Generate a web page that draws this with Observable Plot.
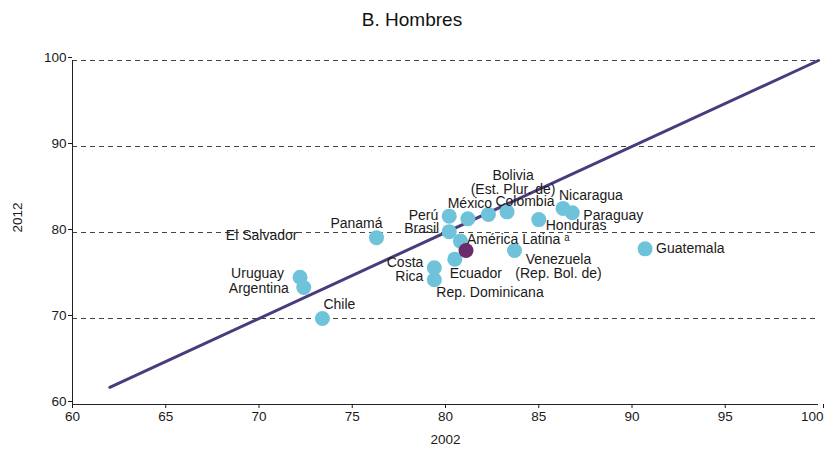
<!DOCTYPE html>
<html>
<head>
<meta charset="utf-8">
<script src="https://cdn.jsdelivr.net/npm/d3@7"></script>
<script src="https://cdn.jsdelivr.net/npm/@observablehq/plot@0.6"></script>
<style>
  html, body { margin: 0; padding: 0; background: #fff; }
  body { width: 824px; height: 451px; overflow: hidden; font-family: "Liberation Sans", Arial, sans-serif; }
  #title { height: 42px; line-height: 40px; text-align: center; font-size: 19px; color: #111; }
  #chart svg { display: block; }
</style>
</head>
<body>
<div id="title">B. Hombres</div>
<div id="chart"></div>
<script>
// ---- data ----
const countries = ["Argentina", "Bolivia (Est. Plur. de)", "Brasil", "Chile", "Colombia", "Costa Rica",
  "Ecuador", "El Salvador", "Guatemala", "Honduras", "México", "Nicaragua", "Panamá", "Paraguay",
  "Perú", "Rep. Dominicana", "Uruguay", "Venezuela (Rep. Bol. de)", "América Latina"];
const value2002 = [72.4, 83.3, 80.2, 73.4, 82.3, 79.4, 80.5, 80.8, 90.7, 85.0, 81.2, 86.3, 76.3, 86.8, 80.2, 79.4, 72.2, 83.7, 81.1];
const value2012 = [73.6, 82.4, 80.1, 70.0, 82.1, 75.9, 76.9, 79.0, 78.1, 81.5, 81.6, 82.8, 79.4, 82.3, 81.9, 74.5, 74.8, 77.9, 77.9];
const labels = ["Argentina", "Bolivia\n(Est. Plur. de)", "Brasil", "Chile", "Colombia", "Costa\nRica",
  "Ecuador", "El Salvador", "Guatemala", "Honduras", "México", "Nicaragua", "Panamá", "Paraguay",
  "Perú", "Rep. Dominicana", "Uruguay", "Venezuela\n(Rep. Bol. de)", "América Latina ᵃ"];
const xTicks = [60, 65, 70, 75, 80, 85, 90, 95];
const xLastTick = [100];
const yTicks = [60, 70, 80, 90, 100];
const gridLines = [70, 80, 90, 100];
const diagonal = [62, 100];
const regionName = "América Latina";

// ---- label placement (styling, px offsets from each dot) ----
const placement = {
  "Argentina": [-15, 1, "end"],
  "Bolivia (Est. Plur. de)": [6, -29, "middle"],
  "Brasil": [-10, -3, "end"],
  "Chile": [17, -14, "middle"],
  "Colombia": [7, -13, "start"],
  "Costa Rica": [-11, 2, "end"],
  "Ecuador": [21, 14, "middle"],
  "El Salvador": [-163, -6, "end"],
  "Guatemala": [11, 0, "start"],
  "Honduras": [7, 6, "start"],
  "México": [2, -15, "middle"],
  "Nicaragua": [-4, -13, "start"],
  "Panamá": [-20, -14, "middle"],
  "Paraguay": [11, 3, "start"],
  "Perú": [-11, -1, "end"],
  "Rep. Dominicana": [2, 13, "start"],
  "Uruguay": [-16, -4, "end"],
  "Venezuela (Rep. Bol. de)": [44, 16, "middle"],
  "América Latina": [1, -11, "start"]
};

const rows = countries.map((c, i) => ({name: c, x: value2002[i], y: value2012[i], label: labels[i]}));
const countryRows = rows.filter(d => d.name !== regionName);
const regionRows = rows.filter(d => d.name === regionName);

const labelMarks = rows.map(d => {
  const [dx, dy, anchor] = placement[d.name];
  return Plot.text([d], {
    x: "x", y: "y", text: "label", dx, dy, textAnchor: anchor,
    fontSize: 14, lineHeight: 1.0, fill: "#1a1a1a"
  });
});

const chart = Plot.plot({
  width: 824,
  height: 409,
  marginTop: 18,
  marginBottom: 47,
  marginLeft: 72,
  marginRight: 6,
  style: {fontFamily: "'Liberation Sans', Arial, sans-serif", fontSize: "13px", color: "#1a1a1a", background: "#fff"},
  x: {domain: [60, 100], label: null},
  y: {domain: [60, 100], label: null},
  marks: [
    Plot.ruleY(gridLines, {stroke: "#444", strokeWidth: 1, strokeDasharray: "5,4"}),
    Plot.axisX({ticks: xTicks, tickSize: 4, tickPadding: 3, fontSize: 13.5, label: null}),
    Plot.axisX({ticks: xLastTick, tickSize: 4, tickPadding: 3, fontSize: 13.5, label: null, textAnchor: "end", dx: 5}),
    Plot.axisY({ticks: yTicks, tickSize: 4, tickPadding: 2, fontSize: 13.5, label: null, dy: -3}),
    Plot.ruleX([60], {stroke: "#222", strokeWidth: 1}),
    Plot.ruleY([60], {stroke: "#222", strokeWidth: 1}),
    Plot.line(diagonal, {x: d => d, y: d => d, stroke: "#4b3a7e", strokeWidth: 3}),
    Plot.dot(countryRows, {x: "x", y: "y", r: 7.5, fill: "#6ec3da", stroke: "none"}),
    Plot.dot(regionRows, {x: "x", y: "y", r: 7.5, fill: "#6b2a6a", stroke: "none"}),
    ...labelMarks,
    Plot.text(["2002"], {frameAnchor: "bottom", dy: 39, fontSize: 13.5, fill: "#1a1a1a"}),
    Plot.text(["2012"], {frameAnchor: "left", dx: -55, rotate: -90, fontSize: 13.5, fill: "#1a1a1a"})
  ]
});
document.getElementById("chart").appendChild(chart);
</script>
</body>
</html>
